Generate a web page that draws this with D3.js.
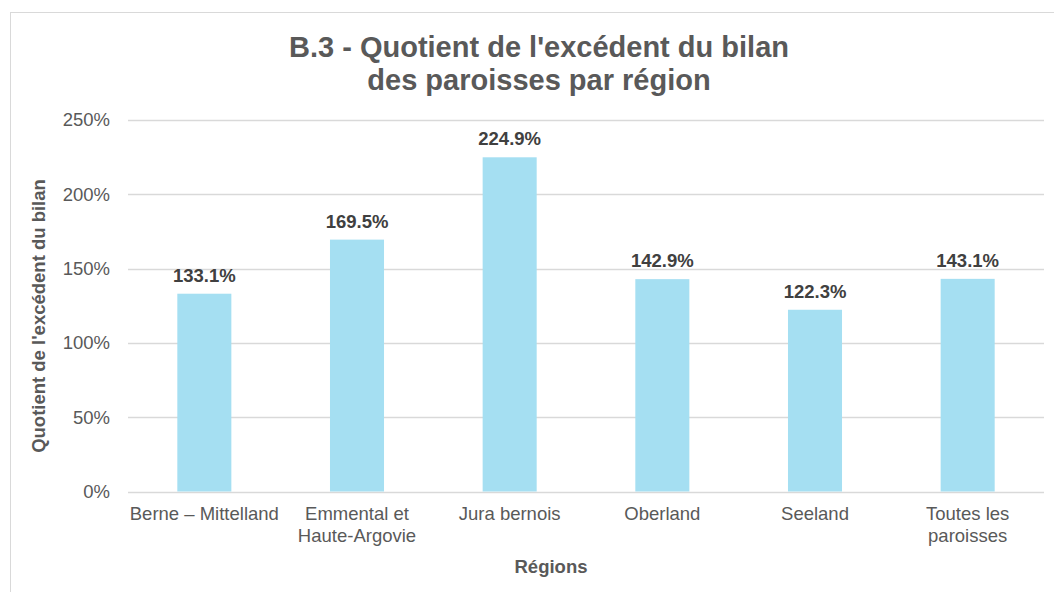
<!DOCTYPE html>
<html>
<head>
<meta charset="utf-8">
<title>B.3</title>
<style>
body {margin: 0; background: #fff;}
svg {font-family: "Liberation Sans", Arial, sans-serif;}
.tick text {fill: #595959; font-size: 18.5px;}
</style>
</head>
<body>
<div id="chart"></div>
<script src="https://cdn.jsdelivr.net/npm/d3@7/dist/d3.min.js"></script>
<script>
var regions = [["Berne \u2013 Mittelland"], ["Emmental et", "Haute-Argovie"], ["Jura bernois"], ["Oberland"], ["Seeland"], ["Toutes les", "paroisses"]];
var quotients = [133.1, 169.5, 224.9, 142.9, 122.3, 143.1];
var yTicks = [0, 50, 100, 150, 200, 250];

var width = 1054, height = 592;
var margin = {left: 128, right: 10, top: 120, bottom: 100};

var svg = d3.select('#chart').append('svg')
	.attr('width', width)
	.attr('height', height);

// chart frame (only left/top edges visible in the crop)
svg.append('rect')
	.attr('x', 10.5).attr('y', 12.5)
	.attr('width', 1060).attr('height', 600)
	.attr('fill', 'none').attr('stroke', '#d9d9d9');

var x = d3.scaleBand()
	.domain(d3.range(regions.length))
	.range([margin.left, 1044])
	.paddingInner(0.646)
	.paddingOuter(0.323);

var y = d3.scaleLinear()
	.domain([0, 250])
	.range([491.5, 120]);

// gridlines
svg.append('g').selectAll('line')
	.data(yTicks)
	.enter().append('line')
	.attr('x1', margin.left).attr('x2', 1044)
	.attr('y1', function(d) { return Math.round(y(d)) + 0.5; })
	.attr('y2', function(d) { return Math.round(y(d)) + 0.5; })
	.attr('stroke', '#d9d9d9').attr('stroke-width', 1.3);

var yAxis = svg.append('g')
	.attr('transform', 'translate(' + margin.left + ',0)')
	.call(d3.axisLeft(y).tickValues(yTicks).tickSize(0).tickPadding(18)
		.tickFormat(function(d) { return d + '%'; }));
yAxis.select('.domain').remove();

svg.append('g').selectAll('rect')
	.data(quotients)
	.enter().append('rect')
	.attr('x', function(d, i) { return x(i); })
	.attr('y', function(d) { return y(d); })
	.attr('width', x.bandwidth())
	.attr('height', function(d) { return y(0) - y(d); })
	.attr('fill', '#a5dff2');

svg.append('g').selectAll('text')
	.data(quotients)
	.enter().append('text')
	.attr('x', function(d, i) { return x(i) + x.bandwidth() / 2; })
	.attr('y', function(d) { return y(d) - 12; })
	.attr('text-anchor', 'middle')
	.attr('fill', '#404040')
	.style('font-size', '18.5px')
	.style('font-weight', 'bold')
	.text(function(d) { return d.toFixed(1) + '%'; });

// category labels
var cat = svg.append('g').selectAll('text')
	.data(regions)
	.enter().append('text')
	.attr('x', function(d, i) { return x(i) + x.bandwidth() / 2; })
	.attr('y', 520)
	.attr('text-anchor', 'middle')
	.attr('fill', '#595959')
	.style('font-size', '18.5px');
cat.selectAll('tspan')
	.data(function(d) { return d; })
	.enter().append('tspan')
	.attr('x', function() { return d3.select(this.parentNode).attr('x'); })
	.attr('dy', function(d, i) { return i ? 22 : 0; })
	.text(function(d) { return d; });

// title
var title = svg.append('text')
	.attr('x', 539).attr('y', 57)
	.attr('text-anchor', 'middle')
	.attr('fill', '#595959')
	.style('font-size', '29px')
	.style('font-weight', 'bold');
title.append('tspan').attr('x', 539).text("B.3 - Quotient de l'excédent du bilan");
title.append('tspan').attr('x', 539).attr('dy', 33).text('des paroisses par région');

svg.append('text')
	.attr('x', 551).attr('y', 573)
	.attr('text-anchor', 'middle')
	.attr('fill', '#595959')
	.style('font-size', '18.5px')
	.style('font-weight', 'bold')
	.text('Régions');

svg.append('text')
	.attr('transform', 'translate(45,316) rotate(-90)')
	.attr('text-anchor', 'middle')
	.attr('fill', '#595959')
	.style('font-size', '18.5px')
	.style('font-weight', 'bold')
	.text("Quotient de l'excédent du bilan");
</script>
</body>
</html>
